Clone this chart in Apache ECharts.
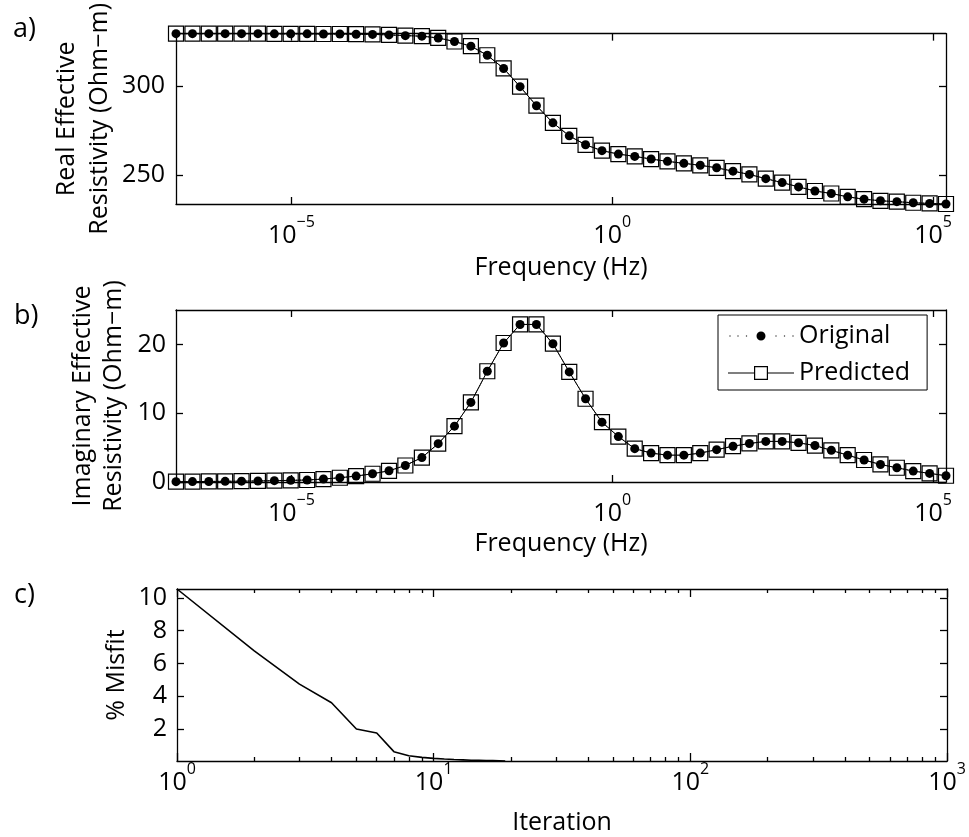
<!DOCTYPE html>
<html>
<head>
<meta charset="utf-8">
<script src="https://cdn.jsdelivr.net/npm/echarts@6/dist/echarts.min.js"></script>
<style>
  html, body { margin: 0; padding: 0; background: #fff; }
  #chart { width: 969px; height: 837px; }
</style>
</head>
<body>
<div id="chart"></div>
<script>
// ---- data -------------------------------------------------------------
// Sounding frequencies (Hz)
const frequencyHz = [
  1.59e-7, 2.87e-7, 5.16e-7, 9.28e-7, 1.67e-6, 3.01e-6, 5.42e-6, 9.75e-6,
  1.76e-5, 3.16e-5, 5.69e-5, 1.02e-4, 1.84e-4, 3.32e-4, 5.97e-4, 1.08e-3,
  1.94e-3, 3.48e-3, 6.27e-3, 1.13e-2, 2.03e-2, 3.66e-2, 6.59e-2, 0.119,
  0.214, 0.384, 0.692, 1.246, 2.243, 4.037, 7.267, 13.08,
  23.55, 42.39, 76.31, 137.4, 247.4, 445.2, 801.4, 1443,
  2597, 4676, 8417, 15150, 27280, 49120, 88420, 159200
];

// a) real part of the effective resistivity (Ohm-m)
const realOriginal = [
  329.3, 329.3, 329.3, 329.3, 329.3, 329.3, 329.2, 329.2,
  329.2, 329.1, 329.1, 329.0, 328.9, 328.6, 328.2, 327.9,
  326.9, 324.9, 322.3, 317.2, 309.8, 299.6, 288.9, 279.3,
  272.0, 267.0, 263.7, 261.8, 260.5, 259.0, 257.7, 256.6,
  255.5, 254.1, 252.2, 250.4, 248.0, 245.8, 243.4, 241.1,
  239.7, 237.8, 236.5, 235.6, 235.1, 234.5, 234.1, 233.8
];
const realPredicted = [
  329.3, 329.3, 329.3, 329.3, 329.3, 329.3, 329.2, 329.2,
  329.2, 329.1, 329.1, 329.0, 328.9, 328.6, 328.2, 327.9,
  326.9, 324.9, 322.3, 317.2, 309.8, 299.6, 288.9, 279.3,
  272.0, 267.0, 263.7, 261.8, 260.5, 259.0, 257.7, 256.6,
  255.5, 254.1, 252.2, 250.4, 248.0, 245.8, 243.4, 241.1,
  239.7, 237.8, 236.5, 235.6, 235.1, 234.5, 234.1, 233.8
];

// b) imaginary part of the effective resistivity (Ohm-m)
const imagOriginal = [
  0.05, 0.06, 0.08, 0.10, 0.12, 0.15, 0.19, 0.24,
  0.29, 0.43, 0.62, 0.86, 1.20, 1.63, 2.40, 3.55,
  5.57, 8.12, 11.57, 16.1, 20.2, 22.9, 22.9, 20.1,
  16.0, 12.1, 8.7, 6.6, 4.85, 4.2, 3.9, 3.9,
  4.2, 4.7, 5.2, 5.6, 5.9, 5.9, 5.7, 5.3,
  4.6, 3.9, 3.2, 2.55, 2.07, 1.59, 1.25, 0.91
];
const imagPredicted = [
  0.05, 0.06, 0.08, 0.10, 0.12, 0.15, 0.19, 0.24,
  0.29, 0.43, 0.62, 0.86, 1.20, 1.63, 2.40, 3.55,
  5.57, 8.12, 11.57, 16.1, 20.2, 22.9, 22.9, 20.1,
  16.0, 12.1, 8.7, 6.6, 4.85, 4.2, 3.9, 3.9,
  4.2, 4.7, 5.2, 5.6, 5.9, 5.9, 5.7, 5.3,
  4.6, 3.9, 3.2, 2.55, 2.07, 1.59, 1.25, 0.91
];

// c) inversion convergence
const iterations = [1, 2, 3, 4, 5, 6, 7, 8, 9, 10, 11, 12, 13, 14, 15, 16, 17, 18, 19];
const misfitPercent = [
  10.54, 6.76, 4.74, 3.60, 2.00, 1.76, 0.62, 0.37, 0.27, 0.21,
  0.17, 0.14, 0.12, 0.10, 0.09, 0.08, 0.07, 0.06, 0.05
];

// tick positions
const freqTicks = [1e-5, 1, 1e5];
const realTicks = [250, 300];
const imagTicks = [0, 10, 20];
const iterTicks = [1, 10, 100, 1000];
const iterMinorTicks = [2, 3, 4, 5, 6, 7, 8, 9, 20, 30, 40, 50, 60, 70, 80, 90,
                        200, 300, 400, 500, 600, 700, 800, 900];
const misfitTicks = [2, 4, 6, 8, 10];

// ---- styling helpers ------------------------------------------------------
const FONT = 'Open Sans';
const INK = '#000';

function powerLabel(v) {
  const e = Math.round(Math.log10(v));
  const s = e < 0 ? '\u2212' + (-e) : String(e);
  return '{b|10}{s|' + s + '}';
}
function powerRich() {
  return {
    b: { fontFamily: FONT, fontSize: 25, lineHeight: 34, verticalAlign: 'bottom', color: INK },
    s: { fontFamily: FONT, fontSize: 16, lineHeight: 16, verticalAlign: 'top', color: INK }
  };
}
const nameStyle = (lh) => ({ fontFamily: FONT, fontSize: 25, color: INK, lineHeight: lh });
const axisLine = (show) => ({ show: show, onZero: false, lineStyle: { color: INK, width: 1.3 } });
const axisTick = (values, len) => ({
  show: true, inside: true, length: len, customValues: values.slice(),
  lineStyle: { color: INK, width: 1.3 }
});

// log-scaled x axis with ticks on given values
function logX(grid, pos, min, max, ticks, opts) {
  opts = opts || {};
  const ax = {
    type: 'log', logBase: 10, gridIndex: grid, position: pos, min: min, max: max,
    axisLine: axisLine(!opts.noLine),
    axisTick: axisTick(ticks, opts.tickLen || 7),
    axisLabel: opts.labels ? {
      show: true, customValues: ticks.slice(), formatter: powerLabel, rich: powerRich(),
      fontFamily: FONT, fontSize: 25, color: INK, margin: opts.labelMargin
    } : { show: false },
    splitLine: { show: false }
  };
  if (opts.name) {
    ax.name = opts.name;
    ax.nameLocation = 'middle';
    ax.nameGap = opts.nameGap;
    ax.nameMoveOverlap = false;
    ax.nameTextStyle = nameStyle(25);
  }
  return ax;
}

function linY(grid, pos, min, max, ticks, opts) {
  opts = opts || {};
  const ax = {
    type: 'value', gridIndex: grid, position: pos, min: min, max: max,
    axisLine: axisLine(true),
    axisTick: axisTick(ticks, 7),
    axisLabel: opts.labels ? {
      show: true, customValues: ticks.slice(), margin: opts.labelMargin,
      fontFamily: FONT, fontSize: 25, color: INK
    } : { show: false },
    splitLine: { show: false }
  };
  if (opts.name) {
    ax.name = opts.name;
    ax.nameLocation = 'middle';
    ax.nameRotate = 90;
    ax.nameGap = opts.nameGap;
    ax.nameMoveOverlap = false;
    ax.nameTextStyle = nameStyle(opts.nameLineHeight);
  }
  return ax;
}

const fMin = frequencyHz[0];
const fMax = frequencyHz[frequencyHz.length - 1];
const realMin = Math.min(...realOriginal, ...realPredicted);
const realMax = Math.max(...realOriginal, ...realPredicted);
const misMin = Math.min(...misfitPercent);
const misMax = Math.max(...misfitPercent);

const pairs = (xs, ys) => xs.map((x, i) => [x, ys[i]]);

function originalSeries(xi, yi, ys) {
  return {
    name: 'Original', type: 'line', xAxisIndex: xi, yAxisIndex: yi,
    data: pairs(frequencyHz, ys), clip: false, z: 4,
    symbol: 'circle', symbolSize: 9, showAllSymbol: true,
    itemStyle: { color: INK },
    lineStyle: { color: INK, width: 1, type: 'dotted' },
    emphasis: { disabled: true }
  };
}
function predictedSeries(xi, yi, ys) {
  return {
    name: 'Predicted', type: 'line', xAxisIndex: xi, yAxisIndex: yi,
    data: pairs(frequencyHz, ys), clip: false, z: 3,
    symbol: 'rect', symbolSize: 15, showAllSymbol: true,
    itemStyle: { color: 'rgba(0,0,0,0)', borderColor: INK, borderWidth: 1.2 },
    lineStyle: { color: INK, width: 1, type: 'solid' },
    emphasis: { disabled: true }
  };
}

// legend glyphs: dotted line with a dot, solid line with an open square
const ICON_ORIGINAL = 'path://M0,0h0.01v0.01h-0.01z M65.99,15.99h0.01v0.01h-0.01z ' +
  'M1.4,7.4h1.2v1.2h-1.2z M9.4,7.4h1.2v1.2h-1.2z M17.9,7.4h1.2v1.2h-1.2z ' +
  'M28.5,8a4.5,4.5 0 1 0 9,0a4.5,4.5 0 1 0 -9,0z ' +
  'M47.4,7.4h1.2v1.2h-1.2z M55.9,7.4h1.2v1.2h-1.2z M64.4,7.4h1.2v1.2h-1.2z';
const ICON_PREDICTED = 'path://M0,0h0.01v0.01h-0.01z M65.99,15.99h0.01v0.01h-0.01z ' +
  'M0,7.5H26v1H0z M40,7.5H66v1H40z M26,1H40V15H26z M27.2,2.2V13.8H38.8V2.2z';

const chart = echarts.init(document.getElementById('chart'));

chart.setOption({
  backgroundColor: '#fff',
  animation: false,
  textStyle: { fontFamily: FONT, color: INK },
  grid: [
    { left: 176, top: 31, width: 770, height: 173 },
    { left: 176, top: 310, width: 770, height: 172 },
    { left: 177, top: 589, width: 770, height: 172 }
  ],
  xAxis: [
    logX(0, 'bottom', fMin, fMax, freqTicks, { labels: true, labelMargin: 10, name: 'Frequency (Hz)', nameGap: 51 }),
    logX(0, 'top', fMin, fMax, freqTicks),
    logX(1, 'bottom', fMin, fMax, freqTicks, { labels: true, labelMargin: 10, name: 'Frequency (Hz)', nameGap: 49 }),
    logX(1, 'top', fMin, fMax, freqTicks),
    logX(2, 'bottom', 1, 1000, iterTicks, { labels: true, labelMargin: 0, name: 'Iteration', nameGap: 49, tickLen: 8 }),
    logX(2, 'top', 1, 1000, iterTicks, { tickLen: 8 }),
    logX(2, 'bottom', 1, 1000, iterMinorTicks, { noLine: true, tickLen: 4 }),
    logX(2, 'top', 1, 1000, iterMinorTicks, { noLine: true, tickLen: 4 })
  ],
  yAxis: [
    linY(0, 'left', realMin, realMax, realTicks, { labels: true, labelMargin: 11,
      name: 'Real Effective\nResistivity (Ohm\u2212m)', nameGap: 60, nameLineHeight: 33 }),
    linY(0, 'right', realMin, realMax, realTicks),
    linY(1, 'left', 0, 25, imagTicks, { labels: true, labelMargin: 10,
      name: 'Imaginary Effective\nResistivity (Ohm\u2212m)', nameGap: 47, nameLineHeight: 31 }),
    linY(1, 'right', 0, 25, imagTicks),
    linY(2, 'left', misMin, misMax, misfitTicks, { labels: true, labelMargin: 10,
      name: '% Misfit', nameGap: 45, nameLineHeight: 30 }),
    linY(2, 'right', misMin, misMax, misfitTicks)
  ],
  legend: {
    show: true, orient: 'vertical', left: 718, top: 315,
    padding: [8, 17, 4, 10], itemGap: 11, itemWidth: 66, itemHeight: 16,
    backgroundColor: '#fff', borderColor: INK, borderWidth: 1, borderRadius: 0,
    selectedMode: false,
    textStyle: { fontFamily: FONT, fontSize: 25, color: INK, lineHeight: 26 },
    data: [
      { name: 'Original', icon: ICON_ORIGINAL, itemStyle: { color: INK, borderWidth: 0 } },
      { name: 'Predicted', icon: ICON_PREDICTED, itemStyle: { color: INK, borderWidth: 0 } }
    ]
  },
  graphic: [
    { type: 'text', left: 13, top: 16, silent: true,
      style: { text: 'a)', font: '27px "Open Sans"', fill: INK } },
    { type: 'text', left: 14, top: 303, silent: true,
      style: { text: 'b)', font: '27px "Open Sans"', fill: INK } },
    { type: 'text', left: 14, top: 582, silent: true,
      style: { text: 'c)', font: '27px "Open Sans"', fill: INK } }
  ],
  series: [
    predictedSeries(0, 0, realPredicted),
    originalSeries(0, 0, realOriginal),
    predictedSeries(2, 2, imagPredicted),
    originalSeries(2, 2, imagOriginal),
    {
      name: 'Misfit', type: 'line', xAxisIndex: 4, yAxisIndex: 4,
      data: pairs(iterations, misfitPercent), clip: false,
      showSymbol: false, symbol: 'none',
      lineStyle: { color: INK, width: 1.6 },
      emphasis: { disabled: true }
    }
  ]
});
</script>
</body>
</html>
